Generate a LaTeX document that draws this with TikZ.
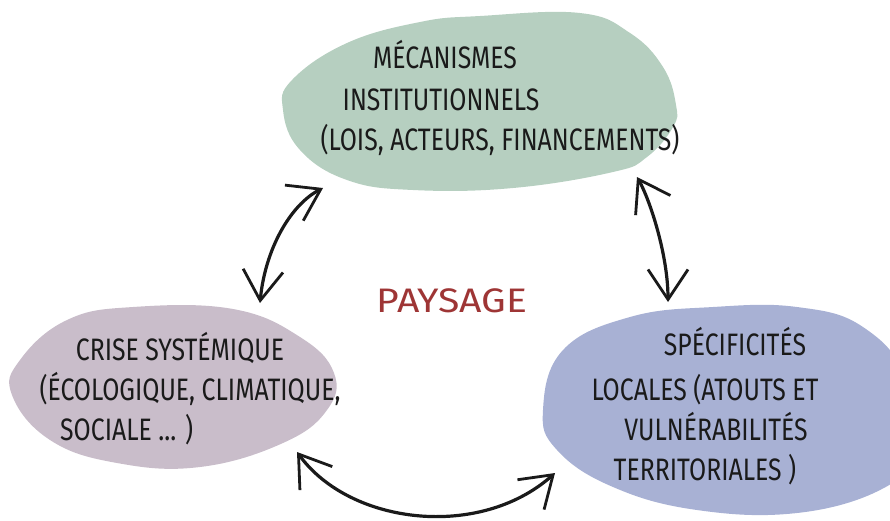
\documentclass[tikz,border=0pt]{standalone}
\usepackage{fontspec}
\setmainfont[FakeStretch=0.8]{Fira Sans}
\newfontfamily\payfont[FakeStretch=1.15]{Fira Sans}
\usetikzlibrary{arrows.meta}
\definecolor{blobgreen}{HTML}{B6CFC0}
\definecolor{blobpurple}{HTML}{C9BDCA}
\definecolor{blobblue}{HTML}{A8B1D4}
\definecolor{inkred}{HTML}{9E3535}
\definecolor{ink}{HTML}{1A1A1A}
\tikzset{
  blob/.style={draw=none},
  hand/.style={text=ink, font=\fontsize{31}{34}\selectfont, anchor=base, inner sep=0pt},
  arr/.style={draw=ink, line width=3.2pt, line cap=round,
    {Straight Barb[length=30pt,width=40pt,line width=2.8pt]}-{Straight Barb[length=30pt,width=40pt,line width=2.8pt]}},
}
\begin{document}
\begin{tikzpicture}[x=1pt,y=-1pt]
\useasboundingbox (0,0) rectangle (890,520);
\clip (0,0) rectangle (890,520);
% blobs
\fill[blob, blobgreen] plot[smooth cycle, tension=0.7] coordinates {
  (283,110) (292,80) (347,43) (420,22) (480,16) (580,13) (630,33) (663,67)
  (676,105) (673,127) (647,157) (613,172) (513,188) (413,190) (347,180) (300,150)};
\fill[blob, blobpurple] plot[smooth cycle, tension=0.7] coordinates {
  (12,395) (20,360) (67,320) (133,307) (233,309) (300,337) (334,373)
  (327,410) (283,443) (200,467) (117,463) (50,440)};
\fill[blob, blobblue] plot[smooth cycle, tension=0.7] coordinates {
  (543,410) (563,350) (630,317) (713,307) (797,307) (863,327) (905,380)
  (900,460) (880,490) (797,513) (697,510) (613,487) (557,450)};
% texts
\node[hand] (g1) at (445,68) {MÉCANISMES};
\node[hand] (g2) at (441,110) {INSTITUTIONNELS};
\node[hand] (g3) at (500,150) {(LOIS, ACTEURS, FINANCEMENTS)};
\node[hand] (p1) at (180,360) {CRISE SYSTÉMIQUE};
\node[hand] (p2) at (190,400) {(ÉCOLOGIQUE, CLIMATIQUE,};
\node[hand, anchor=base west] (p3) at (60,440) {SOCIALE ... )};
\node[hand] (b1) at (735,355) {SPÉCIFICITÉS};
\node[hand] (b2) at (705,400) {LOCALES (ATOUTS ET};
\node[hand] (b3) at (716,440) {VULNÉRABILITÉS};
\node[hand] (b4) at (705,480) {TERRITORIALES )};
\node[hand, text=inkred, font=\payfont\fontsize{34}{38}\selectfont] (pay) at (452,312) {PAYSAGE};
% arrow ends
\coordinate (l1) at (260,303);
\coordinate (l2) at (323,188);
\coordinate (r1) at (637,177);
\coordinate (r2) at (668,302);
\coordinate (d1) at (297,452);
\coordinate (d2) at (555,473);
\draw[arr] (l1) .. controls (265,250) and (290,205) .. (l2);
\draw[arr] (r1) .. controls (650,200) and (668,255) .. (r2);
\draw[arr] (d1) .. controls (350,525) and (480,540) .. (d2);
\end{tikzpicture}
\end{document}
